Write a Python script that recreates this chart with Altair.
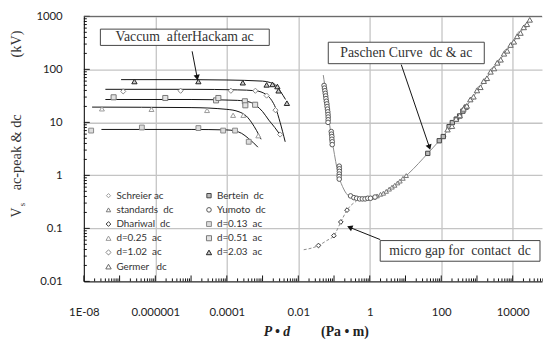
import altair as alt
import pandas as pd

NB = "\u00a0"

# ---------------- scatter series (x: P·d in Pa·m, y: Vs in kV) ----------------
schreier_x = [120, 180, 280, 450, 700, 1100, 1700, 2700, 4200, 6500, 10000, 15000, 22000]
schreier_y = [5.5, 8.4, 11.5, 19, 27, 43.5, 62, 99, 142, 220, 310, 470, 640]

bertein_x = [42, 88, 114, 166, 204, 263, 327, 404, 498]
bertein_y = [2.6, 4.5, 5.4, 8.3, 9.9, 11.5, 13.2, 16.3, 19.4]

standards_x = [1.3, 1.6, 2.0, 2.4, 2.9, 3.5, 4.2, 5.0, 6.0, 7.0, 8.5, 10.5]
standards_y = [0.39, 0.41, 0.44, 0.46, 0.50, 0.55, 0.60, 0.65, 0.72, 0.78, 0.88, 0.99]

yumoto_x = [0.0527, 0.054, 0.0555, 0.057, 0.0585, 0.0595, 0.061, 0.063, 0.064, 0.0655,
            0.067, 0.068, 0.0686, 0.0686, 0.068,
            0.0838, 0.085, 0.087, 0.087, 0.089, 0.089,
            0.140, 0.141, 0.141, 0.140, 0.139, 0.140,
            0.29, 0.36, 0.43, 0.52, 0.62, 0.74, 0.88, 1.05, 1.4]
yumoto_y = [49.7, 44.3, 39.5, 35.3, 31.5, 28.1, 25.0, 22.3, 19.9, 17.8,
            15.8, 14.1, 12.6, 11.2, 10.0,
            6.7, 6.0, 5.4, 4.8, 4.3, 3.8,
            1.49, 1.33, 1.19, 1.06, 0.95, 0.85,
            0.41, 0.38, 0.37, 0.36, 0.36, 0.36, 0.37, 0.37, 0.39]

dhariwal_x = [0.0367, 0.099, 0.155, 0.231]
dhariwal_y = [0.0475, 0.073, 0.132, 0.221]

d013_x = [1.6e-8, 4.2e-7, 1.6e-5, 7.9e-5, 1.7e-4, 4.1e-4]
d013_y = [7.0, 8.0, 7.8, 7.0, 7.0, 4.3]

d025_x = [3.2e-8, 7.8e-7, 2.8e-5, 1.5e-4, 2.9e-4, 7.6e-4]
d025_y = [18, 17.6, 16.8, 13.6, 13.6, 5.6]

d051_x = [6.8e-8, 1.9e-6, 5.0e-5, 5.8e-5, 3.2e-4, 3.3e-4, 6.2e-4]
d051_y = [29.7, 28.8, 26, 28.8, 25, 21, 21.5]

d102_x = [1.26e-7, 5.1e-6, 1.3e-4, 6.3e-4, 1.3e-3, 2.3e-3, 3.1e-3]
d102_y = [38.4, 39.5, 39.5, 39.5, 32, 17, 5.9]

d203_x = [2.6e-7, 1.6e-5, 2.8e-4, 1.3e-3, 1.9e-3, 2.6e-3, 2.8e-3, 4.8e-3]
d203_y = [59, 59, 56, 51, 52, 47.5, 39.5, 23]

germer_x = [150, 200, 260, 330, 420, 520, 650, 800, 1000, 1250, 1550, 1900, 2400,
            3000, 3700, 4600, 5700, 7000, 8700, 10800, 13300, 16500, 20400, 25000, 30000]
germer_y = [7.3, 8.5, 11.6, 13.5, 18, 20.5, 27, 30.5, 40, 46, 60, 68, 90,
            104, 133, 152, 197, 224, 288, 332, 420, 486, 620, 710, 860]

# ---------------- fitted curves ----------------
c013_x = [3.1e-8, 1e-5, 1e-4, 1.7e-4, 2.6e-4, 4.0e-4, 5.6e-4, 7.4e-4]
c013_y = [7.35, 7.35, 7.2, 6.9, 6.2, 5.0, 4.1, 3.4]
c025_x = [1.7e-8, 1e-5, 1e-4, 2.2e-4, 3.5e-4, 5.0e-4, 6.8e-4, 9.1e-4]
c025_y = [19.4, 19, 17.6, 15.8, 13.2, 9.8, 7.0, 4.8]
c051_x = [4e-8, 1e-5, 2e-4, 4.5e-4, 6.6e-4, 1.0e-3, 1.5e-3, 2.2e-3, 3.0e-3]
c051_y = [27, 27, 26, 24, 20.8, 16, 11, 8, 6]
c102_x = [4e-8, 1e-5, 2e-4, 6.3e-4, 1.3e-3, 1.8e-3, 2.3e-3, 3.1e-3, 4.3e-3]
c102_y = [42, 42, 41, 39.5, 33, 26, 19, 10, 4.3]
c203_x = [1.1e-7, 1e-5, 1e-4, 1e-3, 1.7e-3, 2.3e-3, 3.2e-3, 4.4e-3]
c203_y = [64, 64, 63, 60, 56, 51, 38, 27]

paschen_x = [0.050, 0.060, 0.074, 0.095, 0.13, 0.18, 0.27, 0.52, 0.98, 2.5, 12.3, 42, 88, 214, 2700, 30800]
paschen_y = [78, 33, 9.9, 3.4, 1.09, 0.58, 0.40, 0.35, 0.36, 0.47, 1.09, 2.6, 4.5, 9.3, 97, 880]

micro_x = [0.0142, 0.024, 0.0367, 0.0625, 0.099, 0.155, 0.231, 0.42]
micro_y = [0.0396, 0.0426, 0.0475, 0.0589, 0.073, 0.132, 0.221, 0.325]

# ---------------- axes ----------------
x_tick_vals = [1e-8, 1e-6, 1e-4, 1e-2, 1, 100, 10000]
x_tick_labels = ["1E-08", "0.000001", "0.0001", "0.01", "1", "100", "10000"]
y_tick_vals = [0.01, 0.1, 1, 10, 100, 1000]
y_tick_labels = ["0.01", "0.1", "1", "10", "100", "1000"]

# ---------------- annotations ----------------
box_x = [2.9e-8, 0.069, 1.96]
box_x2 = [1.54e-3, 1600, 58000]
box_y = [283, 128, 0.024]
box_y2 = [574, 325, 0.0589]
box_text = ["Vaccum" + NB + " afterHackam ac", "Paschen Curve" + NB + " dc & ac",
            "micro gap for" + NB + " contact" + NB + " dc"]
box_tx = [6.6e-6, 10.5, 337]
box_ty = [403, 204, 0.0376]

arr_x = [1.07e-5, 7.6, 1.96]
arr_y = [219, 123, 0.0615]
arr_x2 = [1.48e-5, 46.7, 0.274]
arr_y2 = [70, 3.4, 0.1045]
arr_ang = [169.4, 161.1, 291.8]

# ---------------- styling per series ----------------
series_names = ["Schreier ac", "Bertein" + NB + " dc", "standards" + NB + " dc", "Yumoto" + NB + " dc",
                "Dhariwal" + NB + " dc", "d=0.13" + NB + " ac", "d=0.25" + NB + " ac", "d=0.51" + NB + " ac",
                "d=1.02" + NB + " ac", "d=2.03" + NB + " ac", "Germer" + NB + NB + " dc"]
series_x = [schreier_x, bertein_x, standards_x, yumoto_x, dhariwal_x, d013_x, d025_x, d051_x, d102_x, d203_x, germer_x]
series_y = [schreier_y, bertein_y, standards_y, yumoto_y, dhariwal_y, d013_y, d025_y, d051_y, d102_y, d203_y, germer_y]
shapes = ["diamond", "square", "triangle-up", "circle", "diamond", "square", "triangle-up", "square",
          "diamond", "triangle-up", "triangle-up"]
strokes = ["#9a9a9a", "#444444", "#777777", "#555555", "#333333", "#888888", "#999999", "#777777",
           "#888888", "#222222", "#666666"]
fills = ["#ffffff", "#bbbbbb", "#ffffff", "#ffffff", "#ffffff", "#dddddd", "#ffffff", "#e3e3e3",
         "#ffffff", "#cccccc", "#ffffff"]
sizes = [18, 30, 24, 28, 20, 10, 24, 38, 20, 34, 28]

rows = []
for name, xs_, ys_ in zip(series_names, series_x, series_y):
    for xv, yv in zip(xs_, ys_):
        rows.append({"x": xv, "y": yv, "series": name})
pts = pd.DataFrame(rows)

crv_rows = []
for cname, xs_, ys_ in [("c013", c013_x, c013_y), ("c025", c025_x, c025_y), ("c051", c051_x, c051_y),
                        ("c102", c102_x, c102_y), ("c203", c203_x, c203_y)]:
    for xv, yv in zip(xs_, ys_):
        crv_rows.append({"x": xv, "y": yv, "curve": cname})
curves = pd.DataFrame(crv_rows)
paschen = pd.DataFrame({"x": paschen_x, "y": paschen_y})
micro = pd.DataFrame({"x": micro_x, "y": micro_y})

boxes = pd.DataFrame({"x": box_x, "x2": box_x2, "y": box_y, "y2": box_y2})
btext = pd.DataFrame({"x": box_tx, "y": box_ty, "t": box_text})
arrows = pd.DataFrame({"x": arr_x, "y": arr_y, "x2": arr_x2, "y2": arr_y2, "ang": arr_ang})
one = pd.DataFrame({"a": [0]})

# minor tick positions
xmaj, xmin_, ymaj, ymin_ = [], [], [], []
for k in range(-8, 5):
    for m in range(1, 10):
        v = m * 10.0 ** k
        (xmaj if m == 1 else xmin_).append(v)
for k in range(-2, 3):
    for m in range(1, 10):
        v = m * 10.0 ** k
        (ymaj if m == 1 else ymin_).append(v)
ymaj.append(1000)

W, H = 465, 269
XMAX = 10 ** 4.82


def lab_expr(vals, labs):
    e = "'" + labs[-1] + "'"
    for v, l in reversed(list(zip(vals[:-1], labs[:-1]))):
        e = "datum.value < %g ? '%s' : %s" % (v * 1.5, l, e)
    return e


xs = alt.Scale(type="log", domain=[1e-8, XMAX], nice=False)
ys = alt.Scale(type="log", domain=[0.01, 1000], nice=False)

x_axis = alt.Axis(values=x_tick_vals, labelExpr=lab_expr(x_tick_vals, x_tick_labels), grid=True,
                  gridColor="#c4c4c4", gridWidth=1.3, ticks=False, tickSize=0, domainColor="#111",
                  labelFont="Lato", labelFontSize=11.5, labelColor="#222", labelPadding=26,
                  labelFlush=False, labelOverlap=False, title=None)
y_axis = alt.Axis(values=y_tick_vals, labelExpr=lab_expr(y_tick_vals, y_tick_labels), grid=True,
                  gridColor="#c4c4c4", gridWidth=1.3, ticks=False, tickSize=0, domainColor="#111",
                  labelFont="Lato", labelFontSize=11.5, labelColor="#222", labelPadding=22,
                  labelFlush=False, labelOverlap=False, title=None)


def X(f="x"):
    return alt.X(f + ":Q", scale=xs, axis=x_axis, title=None)


def Y(f="y"):
    return alt.Y(f + ":Q", scale=ys, axis=y_axis, title=None)


curve_layer = alt.Chart(curves).mark_line(color="#111", strokeWidth=1, interpolate="monotone").encode(
    x=X(), y=Y(), detail="curve:N")
paschen_layer = alt.Chart(paschen).mark_line(color="#8a8a8a", strokeWidth=1, interpolate="monotone").encode(
    x=X(), y=Y())
micro_layer = alt.Chart(micro).mark_line(color="#8a8a8a", strokeWidth=1, strokeDash=[3, 2],
                                         interpolate="monotone").encode(x=X(), y=Y())

leg = alt.Legend(title=None, orient="none", legendX=20, legendY=177, columns=2, direction="horizontal",
                 labelFont="Lato", labelFontSize=10, labelColor="#333", rowPadding=4.4, columnPadding=31,
                 labelOffset=3, symbolStrokeWidth=1)
point_layer = alt.Chart(pts).mark_point(filled=False, strokeWidth=1, opacity=1).encode(
    x=X(), y=Y(),
    shape=alt.Shape("series:N", scale=alt.Scale(domain=series_names, range=shapes), legend=leg),
    stroke=alt.Stroke("series:N", scale=alt.Scale(domain=series_names, range=strokes), legend=leg),
    fill=alt.Fill("series:N", scale=alt.Scale(domain=series_names, range=fills), legend=leg),
    size=alt.Size("series:N", scale=alt.Scale(domain=series_names, range=sizes), legend=leg),
)

box_layer = alt.Chart(boxes).mark_rect(fill="white", stroke="#444", strokeWidth=1).encode(
    x=X(), x2="x2:Q", y=Y(), y2="y2:Q")
btext_layer = alt.Chart(btext).mark_text(font="Liberation Serif", fontSize=14, color="#333",
                                         baseline="middle", align="center").encode(x=X(), y=Y(), text="t:N")
arrow_layer = alt.Chart(arrows).mark_rule(color="#111", strokeWidth=1).encode(
    x=X(), y=Y(), x2="x2:Q", y2="y2:Q")
head_layer = alt.Chart(arrows).mark_point(shape="triangle-up", filled=True, color="#111", size=40,
                                          opacity=1).encode(
    x=X("x2"), y=Y("y2"), angle=alt.Angle("ang:Q", scale=None))

xmaj_df = pd.DataFrame({"v": xmaj})
xmin_df = pd.DataFrame({"v": xmin_})
ymaj_df = pd.DataFrame({"v": ymaj})
ymin_df = pd.DataFrame({"v": ymin_})
tick_layers = [
    alt.Chart(xmaj_df).mark_rule(color="#111").encode(x=X("v"), y=alt.value(H), y2=alt.value(H - 6)),
    alt.Chart(xmin_df).mark_rule(color="#111").encode(x=X("v"), y=alt.value(H), y2=alt.value(H - 3)),
    alt.Chart(ymaj_df).mark_rule(color="#111").encode(y=Y("v"), x=alt.value(0), x2=alt.value(6)),
    alt.Chart(ymin_df).mark_rule(color="#111").encode(y=Y("v"), x=alt.value(0), x2=alt.value(3)),
]
top_border = alt.Chart(one).mark_rule(color="#555").encode(
    x=alt.value(0), x2=alt.value(W), y=alt.value(0))

serif = "Liberation Serif"
title_layers = [
    alt.Chart(one).mark_text(text="P • d", font=serif, fontSize=14, fontWeight="bold", fontStyle="italic",
                             color="#222").encode(x=alt.value(196), y=alt.value(320)),
    alt.Chart(one).mark_text(text="(Pa • m)", font=serif, fontSize=14, fontWeight="bold",
                             color="#222").encode(x=alt.value(265), y=alt.value(320)),
    alt.Chart(one).mark_text(text="V", font=serif, fontSize=14, angle=270, color="#333").encode(
        x=alt.value(-68), y=alt.value(199)),
    alt.Chart(one).mark_text(text="s", font=serif, fontSize=9, angle=270, color="#333").encode(
        x=alt.value(-63), y=alt.value(191)),
    alt.Chart(one).mark_text(text="ac-peak & dc", font=serif, fontSize=14.5, angle=270, color="#333").encode(
        x=alt.value(-68), y=alt.value(138)),
    alt.Chart(one).mark_text(text="(kV)", font=serif, fontSize=14.5, angle=270, color="#333").encode(
        x=alt.value(-68), y=alt.value(28)),
]

chart = alt.layer(
    paschen_layer, *tick_layers, top_border, curve_layer, micro_layer, point_layer,
    arrow_layer, head_layer, box_layer, btext_layer, *title_layers
).properties(
    width=W, height=H,
    autosize=alt.AutoSizeParams(type="none"),
    padding={"left": 77, "top": 6, "right": 1, "bottom": 56},
    background="white",
).configure_view(stroke=None)

chart.save("out.html", embed_options={"renderer": "svg", "actions": False})
